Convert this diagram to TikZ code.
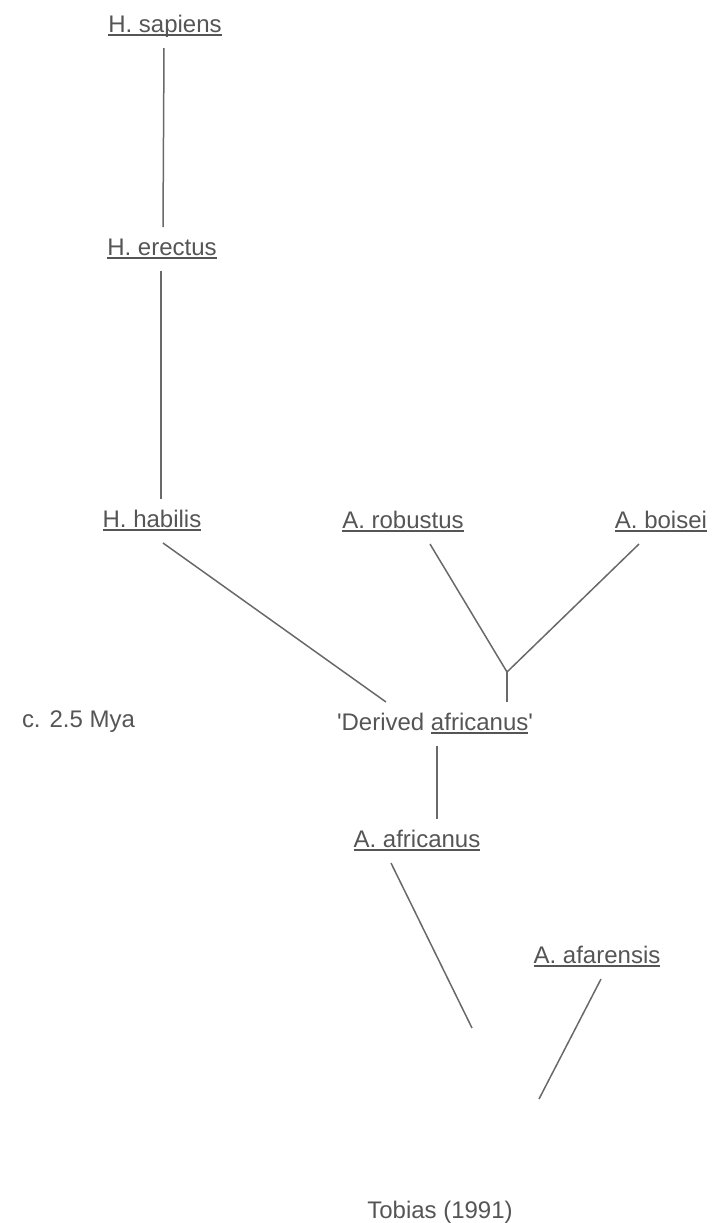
\documentclass[tikz,border=0pt]{standalone}
\usepackage{fontspec}
\setmainfont{Liberation Sans}
\usepackage{tikz}

\definecolor{inkgray}{RGB}{85,85,85}
\definecolor{linegray}{RGB}{105,105,105}

% underline sitting just under the baseline
\newcommand{\undl}[1]{\setbox0\hbox{#1}\rlap{\rule[-1.8pt]{\wd0}{0.7pt}}\box0}

\tikzset{
  taxon/.style={anchor=base, inner sep=0pt, outer sep=5pt, text height=9pt, text depth=3pt,
    text=inkgray, font=\fontsize{12}{14}\selectfont},
  branch/.style={draw=linegray, line width=0.75pt}
}

\begin{document}
\begin{tikzpicture}[x=0.5pt,y=-0.5pt]
\useasboundingbox (0,0) rectangle (714,1223);

% Homo line
\node[taxon] (sapiens) at (165,32) {\undl{H. sapiens}};
\node[taxon] (erectus) at (162,255) {\undl{H. erectus}};
\node[taxon] (habilis) at (152,527) {\undl{H. habilis}};

% robust line
\node[taxon] (robustus) at (403,528) {\undl{A. robustus}};
\node[taxon] (boisei) at (661,528) {\undl{A. boisei}};

\node[taxon] (derived) at (435,730) {\textquotesingle Derived \undl{africanus}\textquotesingle};
\node[taxon] (africanus) at (417,847) {\undl{A. africanus}};
\node[taxon] (afarensis) at (597,963) {\undl{A. afarensis}};

\node[taxon, anchor=base west] (date) at (12,727) {c. 2.5 Mya};
\node[taxon] (source) at (440,1218) {Tobias (1991)};

\coordinate (split) at (507,672); % where robustus and boisei meet
\coordinate (gapL) at (472,1028);
\coordinate (gapR) at (539,1099);

\draw[branch] ([xshift=-0.5pt]sapiens.south) -- ([xshift=0.5pt]erectus.north);
\draw[branch] ([xshift=-0.5pt]erectus.south) -- ([xshift=-0.5pt]erectus.south |- habilis.north);
\draw[branch] ([xshift=5.5pt]habilis.south) -- ([xshift=-24.5pt]derived.north);
\draw[branch] ([xshift=13.5pt]robustus.south) -- (split);
\draw[branch] ([xshift=-11pt]boisei.south) -- (split);
\draw[branch] (split) -- (split |- derived.north);
\draw[branch] ([xshift=1pt]derived.south) -- ([xshift=1pt]derived.south |- africanus.north);
\draw[branch] ([xshift=-13pt]africanus.south) -- (gapL);
\draw[branch] ([xshift=2pt]afarensis.south) -- (gapR);

\end{tikzpicture}
\end{document}
